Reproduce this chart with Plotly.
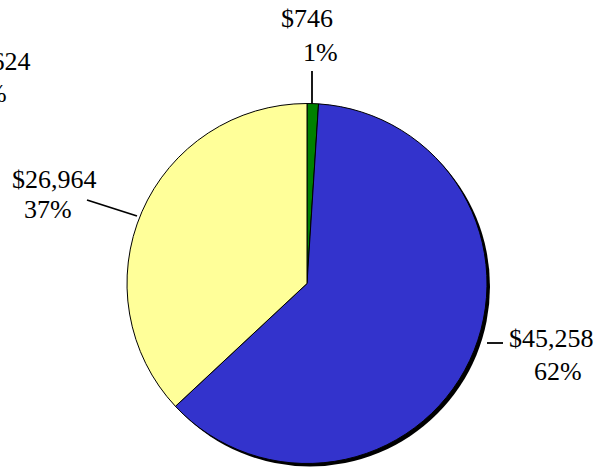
import plotly.graph_objects as go

# ---- data ----
categories = ["Green", "Blue", "Yellow"]
values = [746, 45258, 26964]
colors = ["#008000", "#3333CC", "#FFFF99"]
# partially visible label of a neighbouring chart (cut off at the left edge)
offcanvas_value = "$1,624"
offcanvas_pct = "2%"

# ---- layout constants (pixels) ----
W, H = 605, 468
CX, CY, R = 307, 283.5, 180
SHADOW = 3
FONT = dict(family="Liberation Serif, Times New Roman, serif", size=26, color="black")

def px(x):
    return x / W

def py(y):
    return 1 - y / H

total = sum(values)
pcts = [v / total * 100 for v in values]

fig = go.Figure()

# shadow disc
fig.add_trace(go.Pie(
    values=[total], labels=["shadow"], sort=False, textinfo="none",
    marker=dict(colors=["black"], line=dict(width=0)),
    domain=dict(x=[px(CX - R + SHADOW), px(CX + R + SHADOW)],
                y=[py(CY + R + SHADOW), py(CY - R + SHADOW)]),
    hoverinfo="skip", showlegend=False,
))

# main pie
fig.add_trace(go.Pie(
    values=values, labels=categories, sort=False, direction="clockwise", rotation=0,
    textinfo="none",
    marker=dict(colors=colors, line=dict(color="black", width=1)),
    domain=dict(x=[px(CX - R), px(CX + R)], y=[py(CY + R), py(CY - R)]),
    hoverinfo="label+value+percent", showlegend=False,
))

# label placement: (value-line centre, percent-line centre, leader segment)
label_layout = [
    dict(v=(307, 19), p=(320, 52), seg=((312, 71), (312, 104))),
    dict(v=(551, 338), p=(558, 371), seg=((487, 343), (503, 343))),
    dict(v=(54, 179), p=(48, 210), seg=((87, 200), (137, 216))),
]

annotations = []
shapes = []
for val, pct, lay in zip(values, pcts, label_layout):
    annotations.append(dict(text=f"${val:,}", x=px(lay["v"][0]), y=py(lay["v"][1]),
                            xref="paper", yref="paper", xanchor="center", yanchor="middle",
                            showarrow=False, font=FONT, borderpad=0))
    annotations.append(dict(text=f"{pct:.0f}%", x=px(lay["p"][0]), y=py(lay["p"][1]),
                            xref="paper", yref="paper", xanchor="center", yanchor="middle",
                            showarrow=False, font=FONT, borderpad=0))
    (x0, y0), (x1, y1) = lay["seg"]
    shapes.append(dict(type="line", xref="paper", yref="paper",
                       x0=px(x0), y0=py(y0), x1=px(x1), y1=py(y1),
                       line=dict(color="black", width=1.8)))

annotations.append(dict(text=offcanvas_value, x=px(32), y=py(62), xref="paper", yref="paper",
                        xanchor="right", yanchor="middle", showarrow=False, font=FONT, borderpad=0))
annotations.append(dict(text=offcanvas_pct, x=px(8), y=py(94), xref="paper", yref="paper",
                        xanchor="right", yanchor="middle", showarrow=False, font=FONT, borderpad=0))

fig.update_layout(
    width=W, height=H,
    margin=dict(l=0, r=0, t=0, b=0),
    paper_bgcolor="white", plot_bgcolor="white",
    annotations=annotations, shapes=shapes,
    showlegend=False,
)

fig.write_html("out.html",
               config={"displayModeBar": False},
               post_script="document.body.style.margin='0';document.body.style.overflow='hidden';")
